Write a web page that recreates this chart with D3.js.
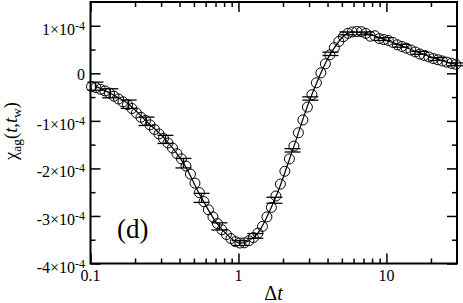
<!DOCTYPE html>
<html><head><meta charset="utf-8">
<script src="https://cdn.jsdelivr.net/npm/d3@7/dist/d3.min.js"></script>
<style>html,body{margin:0;padding:0;background:#fff;} svg{display:block;}
svg text{font-family:"Liberation Serif","Times New Roman","DejaVu Serif",serif;}</style>
</head><body>
<svg id="chart" width="463" height="303"></svg>
<script>
// ---- data (chi values in units of 1e-4) ----
const circleT = [0.1016,0.1089,0.1168,0.1253,0.1344,0.1441,0.1546,0.1658,0.1778,0.1907,
  0.2045,0.2193,0.2352,0.2523,0.2706,0.2902,0.3112,0.3338,0.358,0.384,
  0.4118,0.4417,0.4737,0.508,0.5449,0.5844,0.6268,0.6722,0.7209,0.7732,
  0.8293,0.8894,0.9539,1.023,1.097,1.177,1.262,1.354,1.452,1.557,
  1.67,1.791,1.921,2.06,2.21,2.37,2.542,2.726,2.924,3.136,
  3.363,3.607,3.868,4.149,4.45,4.772,5.118,5.489,5.887,6.314,
  6.772,7.263,7.789,8.354,8.96,9.61,10.31,11.05,11.86,12.72,
  13.64,14.63,15.69,16.83,18.05,19.36,20.76,22.27,23.88,25.61,
  27.47,29.46];
const circleV = [-0.28,-0.30,-0.335,-0.37,-0.415,-0.48,-0.54,-0.60,-0.66,-0.74,
  -0.835,-0.925,-0.99,-1.085,-1.18,-1.275,-1.37,-1.465,-1.57,-1.69,
  -1.80,-1.95,-2.12,-2.31,-2.51,-2.70,-2.87,-3.02,-3.16,-3.29,
  -3.39,-3.475,-3.54,-3.57,-3.565,-3.52,-3.455,-3.36,-3.22,-3.02,
  -2.82,-2.58,-2.33,-2.06,-1.80,-1.53,-1.25,-0.98,-0.71,-0.45,
  -0.20,0.01,0.20,0.39,0.54,0.67,0.77,0.84,0.87,0.88,
  0.875,0.84,0.78,0.79,0.73,0.71,0.69,0.65,0.60,0.565,
  0.53,0.49,0.45,0.405,0.375,0.345,0.31,0.285,0.26,0.235,
  0.21,0.19];
const barT = [0.108,0.136,0.181,0.239,0.321,0.425,0.563,0.743,1.02,1.30,
  1.75,2.32,3.06,4.19,5.45,7.21,9.55,12.6,16.7,22.1,29.2];
const barV = [-0.27,-0.42,-0.65,-1.01,-1.39,-1.89,-2.62,-3.22,-3.57,-3.42,
  -2.67,-1.62,-0.53,0.41,0.84,0.84,0.72,0.58,0.43,0.30,0.19];
const barErr = [0.085,0.095,0.088,0.088,0.085,0.10,0.095,0.075,0.05,0.05,
  0.063,0.035,0.035,0.035,0.03,0.03,0.03,0.03,0.03,0.03,0.03];
const xMajorTicks = [0.1, 1, 10];
const xTickLabels = ["0.1", "1", "10"];
const xMinorTicks = [0.2,0.3,0.4,0.5,0.6,0.7,0.8,0.9,2,3,4,5,6,7,8,9,20];
const yMajorTicks = [-4, -3, -2, -1, 0, 1];
const yTickMantissa = ["-4", "-3", "-2", "-1", "0", "1"];
const yExponent = "-4";
const yMinorTicks = [-3.5, -2.5, -1.5, -0.5, 0.5];

// ---- layout ----
const L = 90.5, R = 457, T = 2, B = 263.5;
const svg = d3.select("#chart");
const x = d3.scaleLog().domain([0.1, 30]).range([L, R]);
const y = d3.scaleLinear().domain([-4, 1.5]).range([B, T]);

// ticks (inward, mirrored)
function tickAxis(axisFn, scale, vals, size, transform) {
  const g = svg.append("g").attr("transform", transform)
    .call(axisFn(scale).tickValues(vals).tickSize(size).tickFormat(""));
  g.select(".domain").remove();
  g.selectAll("line").attr("stroke", "#000").attr("stroke-width", 1.5);
}
tickAxis(d3.axisBottom, x, xMajorTicks, -10, `translate(0,${B})`);
tickAxis(d3.axisBottom, x, xMinorTicks, -5, `translate(0,${B})`);
tickAxis(d3.axisTop, x, xMajorTicks, -10, `translate(0,${T})`);
tickAxis(d3.axisTop, x, xMinorTicks, -5, `translate(0,${T})`);
tickAxis(d3.axisLeft, y, yMajorTicks, -10, `translate(${L},0)`);
tickAxis(d3.axisLeft, y, yMinorTicks, -5, `translate(${L},0)`);
tickAxis(d3.axisRight, y, yMajorTicks, -10, `translate(${R},0)`);
tickAxis(d3.axisRight, y, yMinorTicks, -5, `translate(${R},0)`);

// frame
svg.append("rect").attr("x", L).attr("y", T).attr("width", R - L).attr("height", B - T)
  .attr("fill", "none").attr("stroke", "#000").attr("stroke-width", 2);

// x tick labels
svg.append("g").selectAll("text").data(xMajorTicks).join("text")
  .attr("x", d => x(d)).attr("y", 281)
  .attr("text-anchor", "middle").attr("font-size", 16)
  .text((d, i) => xTickLabels[i]);

// y tick labels
svg.append("g").selectAll("text").data(yMajorTicks).join("text")
  .attr("text-anchor", "end").attr("font-size", 16)
  .attr("x", 85)
  .attr("y", d => d === 0 ? y(d) + 6.5 : y(d) + 9)
  .each(function (d, i) {
    const t = d3.select(this);
    if (d === 0) { t.text(yTickMantissa[i]); return; }
    t.append("tspan").text(yTickMantissa[i] + "\u00D710");
    t.append("tspan").attr("font-size", 12).attr("dy", -5).text(yExponent);
  });

// axis titles
const xt = svg.append("text").attr("x", 273.5).attr("y", 300)
  .attr("text-anchor", "middle").attr("font-size", 20);
xt.append("tspan").text("\u0394");
xt.append("tspan").attr("font-style", "italic").text("t");

const yt = svg.append("text").attr("transform", "translate(16.5,131) rotate(-90)")
  .attr("text-anchor", "middle").attr("font-size", 18.5);
yt.append("tspan").text("\u03C7");
yt.append("tspan").attr("font-size", 13.5).attr("dy", 4).text("ag");
yt.append("tspan").attr("dy", -4).text("(");
yt.append("tspan").attr("font-style", "italic").text("t");
yt.append("tspan").text(",");
yt.append("tspan").attr("font-style", "italic").text("t");
yt.append("tspan").attr("font-size", 13.5).attr("dy", 4).text("w");
yt.append("tspan").attr("dy", -4).text(")");

// panel label
svg.append("text").attr("x", 117).attr("y", 238)
  .attr("font-size", 27).text("(d)");

// line through averaged data
const barData = barT.map((t, i) => ({ t, v: barV[i], e: barErr[i] }));
svg.append("path").datum(barData)
  .attr("fill", "none").attr("stroke", "#000").attr("stroke-width", 1.2)
  .attr("d", d3.line().x(d => x(d.t)).y(d => y(d.v)).curve(d3.curveCatmullRom.alpha(0.5)));

// error bars
const eb = svg.append("g").attr("stroke", "#000").attr("stroke-width", 1.3);
barData.forEach(d => {
  const cx = x(d.t), y1 = y(d.v + d.e), y2 = y(d.v - d.e);
  eb.append("line").attr("x1", cx).attr("x2", cx).attr("y1", y1).attr("y2", y2);
  eb.append("line").attr("x1", cx - 8).attr("x2", cx + 8).attr("y1", y1).attr("y2", y1);
  eb.append("line").attr("x1", cx - 8).attr("x2", cx + 8).attr("y1", y2).attr("y2", y2);
});

// open circles
svg.append("g").selectAll("circle").data(circleT).join("circle")
  .attr("cx", d => x(d)).attr("cy", (d, i) => y(circleV[i])).attr("r", 5)
  .attr("fill", "none").attr("stroke", "#000").attr("stroke-width", 1);
</script>
</body></html>
